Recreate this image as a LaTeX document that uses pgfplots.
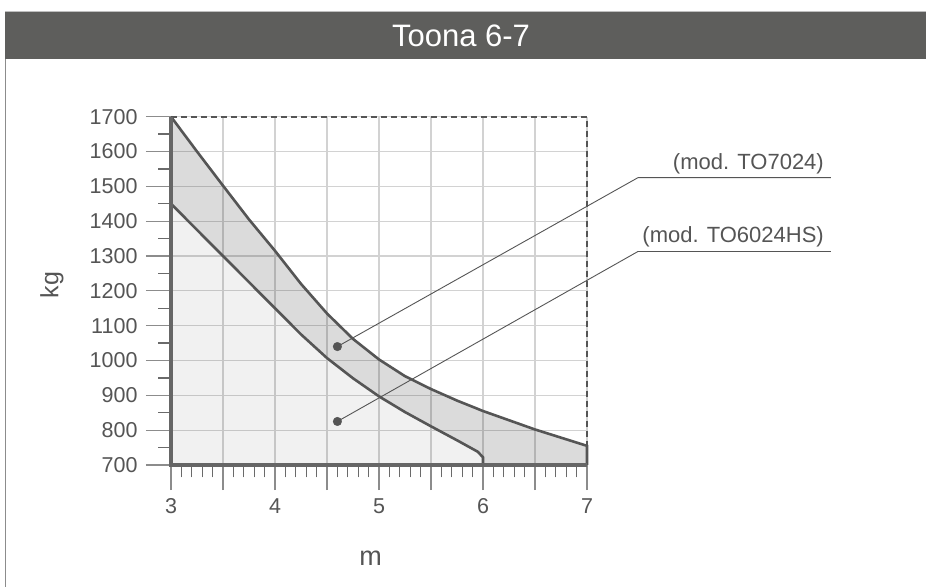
\documentclass[border=0pt]{standalone}
\usepackage{pgfplots}
\pgfplotsset{compat=1.18}
\usepackage{fontspec}
\setmainfont{Liberation Sans}
\definecolor{barc}{HTML}{5E5E5C}
\definecolor{curvec}{HTML}{555555}
\definecolor{gridc}{HTML}{D2D2D2}
\definecolor{txtc}{HTML}{555555}
\definecolor{tickc}{HTML}{8C8C8C}
\definecolor{minc}{HTML}{6A6A6A}
\definecolor{axisc}{HTML}{666666}
\begin{document}
\begin{tikzpicture}
\fill[white] (0,0) rectangle (926bp,587bp);
\path[use as bounding box] (0,0) rectangle (926bp,587bp);
\fill[barc] (5bp,528bp) rectangle (926bp,575bp);
\draw[black!25, line width=1bp] (5bp,575bp) -- (926bp,575bp);
\draw[black!45, line width=1bp] (5.5bp,0) -- (5.5bp,528bp);
\node[text=white, font=\fontsize{31bp}{36bp}\selectfont] at (461bp,551.5bp) {Toona 6-7};
\node[rotate=90, text=txtc, font=\fontsize{25bp}{30bp}\selectfont] at (52bp,302bp) {kg};
\begin{axis}[
  at={(171bp,122bp)}, anchor=south west,
  width=416bp, height=348.3bp, scale only axis,
  xmin=3, xmax=7, ymin=700, ymax=1700,
  clip=false,
  axis line style={draw=none},
  tick pos=left, tick align=outside,
  xtick={3,3.5,...,7}, xticklabels={3,,4,,5,,6,,7},
  minor x tick num=4,
  ytick={700,800,...,1700}, minor y tick num=1,
  major tick length=25bp, minor tick length=12.5bp,
  every major tick/.append style={draw=tickc, line width=1.3bp},
  every minor tick/.append style={draw=minc, line width=1.3bp},
  grid=major, major grid style={draw=gridc, line width=1.2bp},
  /pgf/number format/assume math mode=true,
  /pgf/number format/1000 sep={},
  tick label style={font=\fontsize{21.5bp}{25bp}\selectfont, text=txtc},
  yticklabel style={xshift=-5bp},
  xticklabel style={yshift=-5bp},
  xlabel={m},
  xlabel style={at={(axis description cs:0.48,0)}, anchor=base, yshift=-100bp, font=\fontsize{27bp}{30bp}\selectfont, text=txtc},
]
\addplot[fill=black, fill opacity=0.14, draw=none] coordinates {(3,1450)(3,1700)(3.25,1600)(3.5,1502)(3.75,1405)(4,1315)(4.25,1220)(4.5,1135)(4.75,1062)(5,1003)(5.25,955)(5.5,918)(5.75,885)(6,855)(6.5,802)(7,755)(7,700)(6,700)(6,722)(5.95,738)(5.75,771)(5.5,811)(5.25,852)(5,897)(4.75,949)(4.5,1007)(4.25,1075)(4,1150)(3.5,1300)} -- cycle;
\addplot[fill=black, fill opacity=0.055, draw=none] coordinates {(3,700)(3,1450)(3.5,1300)(4,1150)(4.25,1075)(4.5,1007)(4.75,949)(5,897)(5.25,852)(5.5,811)(5.75,771)(5.95,738)(6,722)(6,700)} -- cycle;
\addplot[draw=curvec, line width=2.6bp] coordinates {(3,1700)(3.25,1600)(3.5,1502)(3.75,1405)(4,1315)(4.25,1220)(4.5,1135)(4.75,1062)(5,1003)(5.25,955)(5.5,918)(5.75,885)(6,855)(6.5,802)(7,755)(7,700)};
\addplot[draw=curvec, line width=2.6bp] coordinates {(3,1450)(3.5,1300)(4,1150)(4.25,1075)(4.5,1007)(4.75,949)(5,897)(5.25,852)(5.5,811)(5.75,771)(5.95,738)(6,722)(6,700)};
\draw[curvec, line width=2bp, dash pattern=on 6bp off 4bp] (axis cs:3,1700) -- (axis cs:7,1700) -- (axis cs:7,700);
\draw[axisc, line width=3.5bp] (axis cs:3,1700) -- (axis cs:3,700) -- (axis cs:7,700);
\addplot[draw=curvec, line width=0.9bp] coordinates {(4.6,1040)(7.49,1525)(9.346,1525)};
\addplot[draw=curvec, line width=0.9bp] coordinates {(4.6,825)(7.49,1313)(9.346,1313)};
\addplot[only marks, mark=*, mark size=4.3bp, mark options={fill=curvec, draw=curvec}] coordinates {(4.6,1040)(4.6,825)};
\node[anchor=base east, inner sep=0, xshift=-7bp, yshift=8bp, text=txtc, font=\fontsize{22bp}{26bp}\selectfont] at (axis cs:9.346,1525) {(mod. TO7024)};
\node[anchor=base east, inner sep=0, xshift=-7bp, yshift=9bp, text=txtc, font=\fontsize{22bp}{26bp}\selectfont] at (axis cs:9.346,1313) {(mod. TO6024HS)};
\end{axis}
\end{tikzpicture}
\end{document}
